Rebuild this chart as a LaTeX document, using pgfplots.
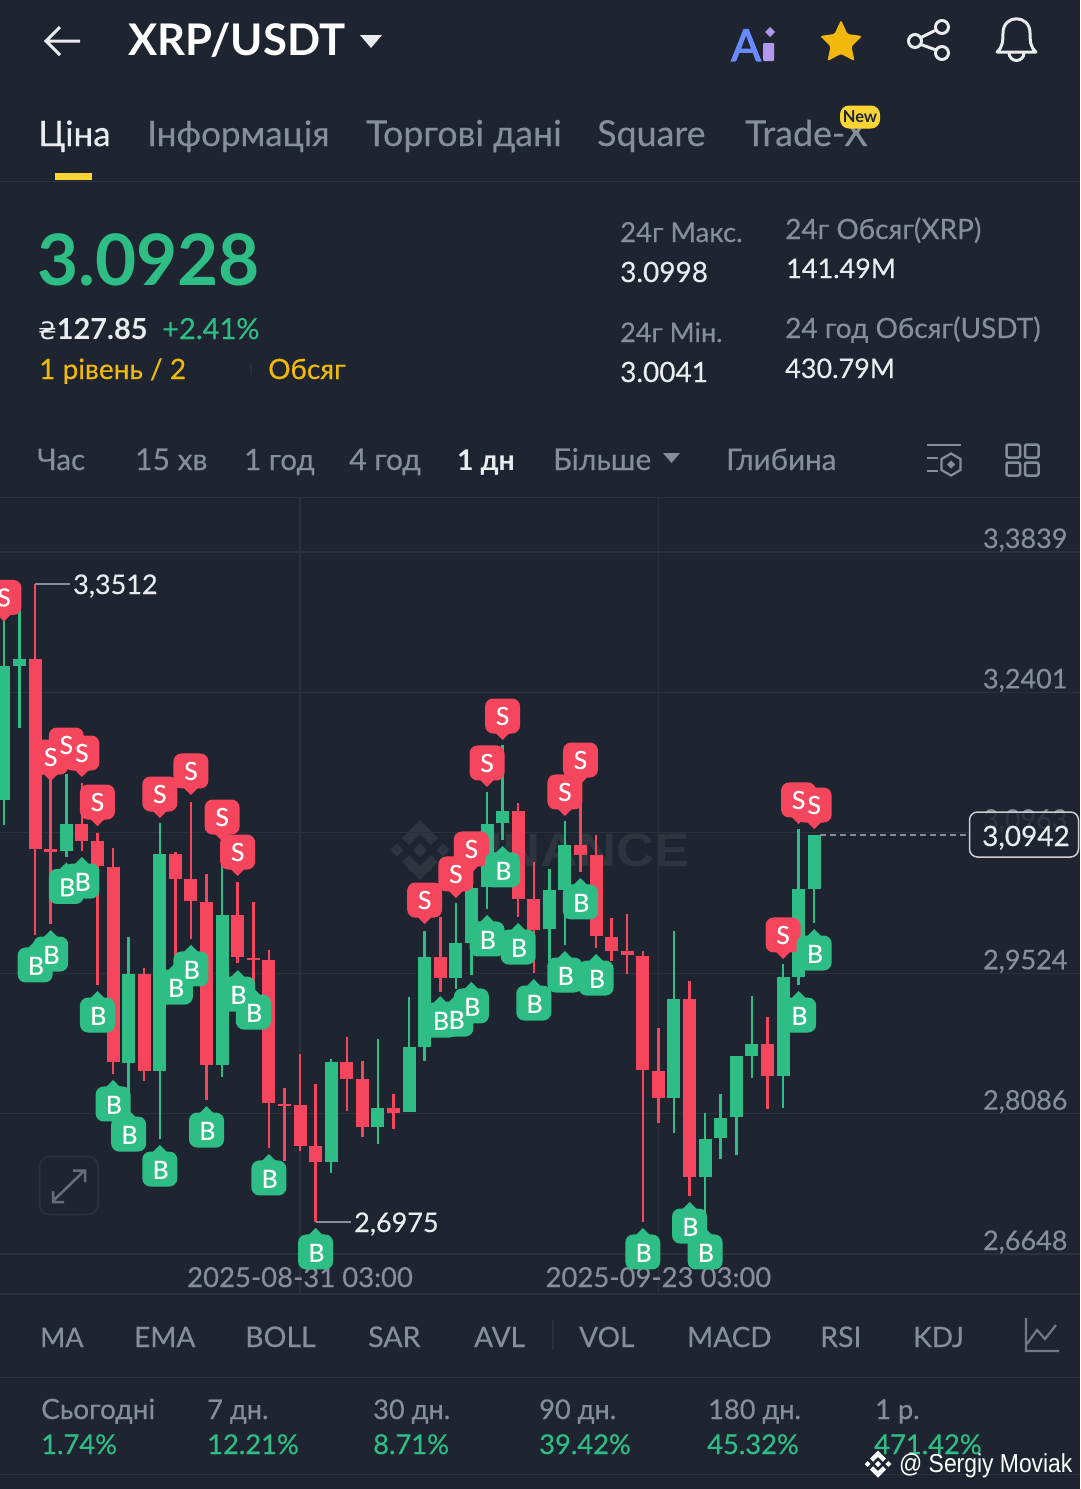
\documentclass[border=0pt]{standalone}
\usepackage{fontspec}
\usepackage{pgfplots}
\usepackage{pgfplotstable}
\pgfplotsset{compat=1.18}
\setmainfont{Lato}[FakeBold=0.35,BoldFeatures={FakeBold=0}]
\newfontfamily\fat{Lato}[FakeBold=2.5]
\newfontfamily\dv{DejaVu Sans}
\newfontfamily\ls{Liberation Sans}
\definecolor{bg}{HTML}{1F2530}
\definecolor{gridc}{HTML}{2B313B}
\definecolor{cg}{HTML}{2EBD85}
\definecolor{cr}{HTML}{F6465D}
\definecolor{yl}{HTML}{F0B90B}
\definecolor{yl2}{HTML}{FCD535}
\definecolor{gt}{HTML}{848E9C}
\definecolor{wt}{HTML}{EAECEF}
\definecolor{wm}{HTML}{2E353F}
\definecolor{aib}{HTML}{6A8AFF}
\definecolor{aiv}{HTML}{B098F0}

\newcommand{\rrect}{%
  \pgfpathmoveto{\pgfpoint{-9.5pt}{-17.5pt}}%
  \pgfpathlineto{\pgfpoint{9.5pt}{-17.5pt}}%
  \pgfpathcurveto{\pgfpoint{13.9pt}{-17.5pt}}{\pgfpoint{17.5pt}{-13.9pt}}{\pgfpoint{17.5pt}{-9.5pt}}%
  \pgfpathlineto{\pgfpoint{17.5pt}{9.5pt}}%
  \pgfpathcurveto{\pgfpoint{17.5pt}{13.9pt}}{\pgfpoint{13.9pt}{17.5pt}}{\pgfpoint{9.5pt}{17.5pt}}%
  \pgfpathlineto{\pgfpoint{-9.5pt}{17.5pt}}%
  \pgfpathcurveto{\pgfpoint{-13.9pt}{17.5pt}}{\pgfpoint{-17.5pt}{13.9pt}}{\pgfpoint{-17.5pt}{9.5pt}}%
  \pgfpathlineto{\pgfpoint{-17.5pt}{-9.5pt}}%
  \pgfpathcurveto{\pgfpoint{-17.5pt}{-13.9pt}}{\pgfpoint{-13.9pt}{-17.5pt}}{\pgfpoint{-9.5pt}{-17.5pt}}%
  \pgfpathclose\pgfusepathqfill}
\pgfdeclareplotmark{sellm}{\rrect
  \pgfpathmoveto{\pgfpoint{-7pt}{-17pt}}\pgfpathlineto{\pgfpoint{7pt}{-17pt}}\pgfpathlineto{\pgfpoint{0pt}{-24pt}}\pgfpathclose\pgfusepathqfill}
\pgfdeclareplotmark{buym}{\rrect
  \pgfpathmoveto{\pgfpoint{-7pt}{17pt}}\pgfpathlineto{\pgfpoint{7pt}{17pt}}\pgfpathlineto{\pgfpoint{0pt}{24pt}}\pgfpathclose\pgfusepathqfill}

% i top bottom high low
\pgfplotstableread{
i top bot high low
0 3.2674 3.1299 3.3347 3.1043
1 3.2743 3.2674 3.3347 3.2036
4 3.1053 3.0776 3.1565 3.0715
8 2.9516 2.8605 2.9895 2.8308
10 3.0745 2.8523 3.1063 2.7826
14 3.0121 2.8584 3.0653 2.8461
21 2.8618 2.7588 2.8646 2.7481
24 2.8144 2.7949 2.8851 2.7778
26 2.8766 2.8100 2.9284 2.8100
27 2.9690 2.8769 2.9957 2.8625
29 2.9834 2.9475 3.0244 2.9363
30 3.0397 2.9834 3.0633 2.9506
31 3.1053 3.0407 3.1381 3.0182
32 3.1186 3.1063 3.1862 3.0889
35 3.0377 2.9977 3.0587 2.9649
36 3.0838 3.0377 3.1083 2.9813
43 2.9260 2.8246 2.9953 2.7888
45 2.7826 2.7437 2.8093 2.6945
46 2.8041 2.7836 2.8287 2.7617
47 2.8672 2.8047 2.8672 2.7662
48 2.8799 2.8676 2.9291 2.8451
50 2.9486 2.8472 2.9619 2.8144
51 3.0387 2.9486 3.1002 2.9404
52 3.0942 3.0387 3.0942 3.0039
}\upcandles
\pgfplotstableread{
i top bot high low
2 3.2743 3.0797 3.3512 2.9916
3 3.0797 3.0766 3.1606 3.0028
5 3.1053 3.0879 3.1473 3.0776
6 3.0879 3.0623 3.0961 2.9404
7 3.0612 2.8615 3.0807 2.8492
9 2.9516 2.8523 2.9578 2.8420
11 3.0745 3.0489 3.0766 2.9690
12 3.0489 3.0264 3.1278 2.9875
13 3.0254 2.8584 3.0541 2.8226
15 3.0121 2.9690 3.0459 2.9629
16 2.9680 2.9660 3.0254 2.9424
17 2.9660 2.8195 2.9762 2.7734
18 2.8188 2.8167 2.8349 2.7604
19 2.8178 2.7758 2.8697 2.7706
20 2.7758 2.7588 2.8390 2.6975
22 2.8618 2.8441 2.8871 2.8113
23 2.8441 2.7949 2.8628 2.7844
25 2.8144 2.8096 2.8287 2.7929
28 2.9690 2.9475 3.0100 2.9332
33 3.1186 3.0285 3.1268 3.0100
34 3.0285 2.9967 3.0664 2.9527
37 3.0838 3.0735 3.1503 3.0561
38 3.0735 2.9906 3.0940 2.9783
39 2.9895 2.9752 3.0090 2.9649
40 2.9752 2.9706 3.0136 2.9521
41 2.9701 2.8533 2.9752 2.6976
42 2.8523 2.8246 2.8963 2.7994
44 2.9260 2.7437 2.9445 2.7246
49 2.8799 2.8472 2.9076 2.8134
}\downcandles
\pgfplotstableread{
i p
0 3.3373
3 3.1739
4 3.1862
5 3.1780
6 3.1278
10 3.1360
12 3.1596
14 3.1124
15 3.0766
27 3.0274
29 3.0541
30 3.0797
31 3.1678
32 3.2159
36 3.1381
37 3.1708
50 2.9916
51 3.1299
52 3.1247
}\sells
\pgfplotstableread{
i p
2 2.9609
3 2.9721
4 3.0413
5 3.0469
6 2.9096
7 2.8185
8 2.7877
10 2.7519
11 2.9383
12 2.9568
13 2.7918
15 2.9311
16 2.9127
17 2.7427
20 2.6669
28 2.9045
29 2.9055
30 2.9189
31 2.9875
32 3.0582
33 2.9793
34 2.9219
36 2.9506
37 3.0254
38 2.9475
41 2.6669
44 2.6935
45 2.6669
51 2.9096
52 2.9731
}\buys

\newcommand{\T}[5]{\node[anchor=base west,inner sep=0pt,text=#4] at (#1,#2) {\fontsize{#3}{#3}\selectfont #5};}
\newcommand{\binlogo}[4]{%
\begin{scope}[shift={(#1,#2)},scale=#3]
\fill[#4] (0,-30)--(18,-12)--(11,-5)--(0,-16)--(-11,-5)--(-18,-12)--cycle;
\fill[#4] (0,30)--(18,12)--(11,5)--(0,16)--(-11,5)--(-18,12)--cycle;
\fill[#4] (0,-7)--(7,0)--(0,7)--(-7,0)--cycle;
\fill[#4] (-23,-6.5)--(-16.5,0)--(-23,6.5)--(-29.5,0)--cycle;
\fill[#4] (23,-6.5)--(16.5,0)--(23,6.5)--(29.5,0)--cycle;
\end{scope}}

\begin{document}
\begin{tikzpicture}
\path[use as bounding box] (0,0) rectangle (1080pt,-1489pt);
\fill[bg] (0,0) rectangle (1080pt,-1489pt);
% watermark under the plot
\begin{scope}[x=1pt,y=-1pt]
\binlogo{420}{850}{1}{wm}
\node[anchor=west,inner sep=0pt,text=wm,xscale=1.12] at (450,850) {\fontsize{47}{47}\selectfont\ls\bfseries BINANCE};
\end{scope}

\begin{axis}[
  at={(0pt,-1294pt)},anchor=south west,
  scale only axis,width=1080pt,height=796pt,
  xmin=-0.2567,xmax=69.06,ymin=2.62386,ymax=3.4392,
  axis line style={draw=none},
  tick style={draw=none},
  major tick length=0pt,
  grid=major,
  grid style={color=gridc,line width=1.3pt},
  xtick={19,42},
  xticklabels={2025-08-31 03:00,2025-09-23 03:00},
  ytick={2.6648,2.8086,2.9524,3.0963,3.2401,3.3839},
  yticklabels={{2,6648},{2,8086},{2,9524},{3,0963},{3,2401},{3,3839}},
  ytick pos=right,
  yticklabel pos=right,
  yticklabel style={anchor=base east,xshift=-9pt,yshift=4pt,font=\fontsize{27}{27}\selectfont,text=gt},
  xticklabel style={anchor=base,yshift=7pt,font=\fontsize{27.5}{27.5}\selectfont,text=gt},
  clip=true,
]
\addplot[quiver={u=0,v=\thisrow{high}-\thisrow{low}},color=cg,line width=2.5pt,no markers,forget plot] table[x=i,y=low]{\upcandles};
\addplot[quiver={u=0,v=\thisrow{top}-\thisrow{bot}},color=cg,line width=13pt,no markers,forget plot] table[x=i,y=bot]{\upcandles};
\addplot[quiver={u=0,v=\thisrow{high}-\thisrow{low}},color=cr,line width=2.5pt,no markers,forget plot] table[x=i,y=low]{\downcandles};
\addplot[quiver={u=0,v=\thisrow{top}-\thisrow{bot}},color=cr,line width=13pt,no markers,forget plot] table[x=i,y=bot]{\downcandles};
\addplot[color=gt,line width=1.5pt,dash pattern=on 6pt off 4pt,no markers,forget plot] coordinates {(52.4,3.0942)(61.8,3.0942)};
\addplot[only marks,mark=sellm,draw=none,mark options={fill=cr,draw=none},forget plot] table[x=i,y=p]{\sells};
\addplot[only marks,mark=buym,draw=none,mark options={fill=cg,draw=none},forget plot] table[x=i,y=p]{\buys};
\addplot[only marks,mark=none,draw=none,forget plot,nodes near coords={S},nodes near coords align={center},every node near coord/.append style={anchor=center,inner sep=0pt,text=white,font=\fontsize{25}{25}\selectfont}] table[x=i,y=p]{\sells};
\addplot[only marks,mark=none,draw=none,forget plot,nodes near coords={B},nodes near coords align={center},every node near coord/.append style={anchor=center,inner sep=0pt,xshift=0.8pt,yshift=-0.8pt,text=white,font=\fontsize{25}{25}\selectfont}] table[x=i,y=p]{\buys};
\end{axis}

\begin{scope}[x=1pt,y=-1pt]
% chart annotations
\draw[color=gt,line width=1.5pt] (35,584)--(70,584);
\T{73}{594}{27}{wt}{3,3512}
\draw[color=gt,line width=1.5pt] (316,1222)--(351,1222);
\T{354}{1232}{27}{wt}{2,6975}
\fill[bg,opacity=.85,rounded corners=8pt] (969.5,812)rectangle(1078.5,857);
\draw[color=wt!85!bg,line width=1.5pt,rounded corners=8pt] (969.5,812)rectangle(1078.5,857);
\T{982}{846}{28}{wt}{3,0942}
% expand icon
\draw[color=gridc,line width=2pt,rounded corners=10pt] (39.5,1156.5) rectangle (98,1214.5);
\draw[color=gt!70!bg,line width=2.5pt] (53,1201)--(84,1171) (73,1170.5)--(85,1170.5)--(85,1182) (53,1191)--(53,1202)--(64,1202);

% header
\draw[color=wt,line width=3pt] (80,41)--(46,41) (60,27)--(46,41)--(60,55);
\T{128}{55}{43.6}{white}{\bfseries XRP/USDT}
\fill[wt] (360,35)--(382,35)--(371,48)--cycle;
\node[anchor=base west,inner sep=0pt,text=aib] at (731,61) {\fontsize{44}{44}\selectfont\fat A};
\fill[aiv,rounded corners=1pt] (763,43) rectangle (774,61);
\fill[aiv] (770,27)--(775,32)--(770,37)--(765,32)--cycle;
\fill[yl,rounded corners=1.5pt] (841,20)--(847.5,34)--(862,36)--(851.5,46.5)--(854.5,61)--(841,54)--(827.5,61)--(830.5,46.5)--(820,36)--(834.5,34)--cycle;
\draw[color=wt,line width=3pt] (915,41)circle(6.5) (942,27)circle(6.5) (942,53)circle(6.5) (921,37.5)--(936,30) (921,44.5)--(936,50);
\draw[color=wt,line width=3pt,line join=round] (997,52)--(1036,52) .. controls (1030,47) and (1030,40) .. (1030,33) .. controls (1030,14) and (1003,14) .. (1003,33) .. controls (1003,40) and (1003,47) .. (997,52)--cycle;
\draw[color=wt,line width=3pt] (1009,53) arc[start angle=180,end angle=0,radius=7.5];
% tabs
\T{38}{146}{35}{wt}{Ціна}
\T{147}{146}{35}{gt}{Інформація}
\T{366}{146}{35.8}{gt}{Торгові дані}
\T{597}{146}{35.8}{gt}{Square}
\T{745}{146}{35.8}{gt}{Trade-X}
\fill[yl2,rounded corners=9pt] (840,105.5) rectangle (880,128.5);
\node[text=bg,inner sep=0pt] at (860,117) {\fontsize{16.5}{16.5}\selectfont\bfseries New};
\fill[yl2] (55,173) rectangle (92,180);
\fill[gridc] (0,180.5) rectangle (1080,182);
% price
\T{37}{285}{71}{cg}{\bfseries 3.0928}
\T{38}{339}{29}{wt}{{\dv\fontsize{24}{24}\selectfont ₴}\bfseries 127.85}
\T{162}{339}{29}{cg}{+2.41\%}
\T{39}{379}{28}{yl}{1 рівень / 2}
\fill[gridc] (250,365) rectangle (252,375);
\T{268}{379}{28}{yl}{Обсяг}
\T{620}{242}{27.5}{gt}{24г Макс.}
\T{620}{282}{28}{wt}{3.0998}
\T{785}{239}{28}{gt}{24г Обсяг(XRP)}
\T{786}{278}{27}{wt}{141.49M}
\T{620}{342}{27}{gt}{24г Мін.}
\T{620}{382}{28}{wt}{3.0041}
\T{785}{338}{28}{gt}{24 год Обсяг(USDT)}
\T{785}{378}{27}{wt}{430.79M}
% periods
\T{37}{470}{29.6}{gt}{Час}
\T{135}{470}{30}{gt}{15 хв}
\T{244}{470}{29.5}{gt}{1 год}
\T{349}{470}{30}{gt}{4 год}
\T{457}{470}{28.5}{wt}{\bfseries 1 дн}
\T{553}{470}{30}{gt}{Більше}
\fill[gt] (663,453)--(680,453)--(671.5,463)--cycle;
\T{726}{470}{29.6}{gt}{Глибина}
\draw[color=gt,line width=2.2pt] (927,445)--(961,445) (927,458)--(938,458) (927,471)--(938,471);
\draw[color=gt,line width=2.2pt] (951,453.5)--(960.5,459)--(960.5,470)--(951,475.5)--(941.5,470)--(941.5,459)--cycle;
\fill[gt] (951,460.5)--(955,464.5)--(951,468.5)--(947,464.5)--cycle;
\draw[color=gt,line width=2.5pt,rounded corners=2pt] (1006.5,444.5) rectangle (1020,457.5) (1025,444.5) rectangle (1038.5,457.5) (1006.5,462.5) rectangle (1020,475.5) (1025,462.5) rectangle (1038.5,475.5);
\fill[gridc] (0,496.5) rectangle (1080,498);
% indicator row
\fill[gridc] (0,1293) rectangle (1080,1294.5);
\T{40}{1347}{27}{gt}{MA}
\T{134}{1347}{28}{gt}{EMA}
\T{245}{1347}{28.5}{gt}{BOLL}
\T{368}{1347}{28.5}{gt}{SAR}
\T{474}{1347}{28}{gt}{AVL}
\fill[gridc] (552,1320) rectangle (553.5,1350);
\T{579}{1347}{28}{gt}{VOL}
\T{687}{1347}{28}{gt}{MACD}
\T{820}{1347}{28.5}{gt}{RSI}
\T{913}{1347}{28}{gt}{KDJ}
\draw[color=gt!80!bg,line width=2.2pt] (1026,1318)--(1026,1351)--(1059,1351) (1027,1344)--(1037,1330)--(1045,1339)--(1056,1325);
\fill[gridc] (0,1376.5) rectangle (1080,1378);
% performance
\T{41}{1419}{28}{gt}{Сьогодні}
\T{207}{1419}{27.2}{gt}{7 дн.}
\T{373}{1419}{27.2}{gt}{30 дн.}
\T{539}{1419}{27.2}{gt}{90 дн.}
\T{708}{1419}{27.2}{gt}{180 дн.}
\T{875}{1419}{27.2}{gt}{1 р.}
\T{41}{1454}{27.3}{cg}{1.74\%}
\T{207}{1454}{27.3}{cg}{12.21\%}
\T{373}{1454}{27.3}{cg}{8.71\%}
\T{539}{1454}{27.3}{cg}{39.42\%}
\T{707}{1454}{27.3}{cg}{45.32\%}
\T{874}{1454}{27.3}{cg}{471.42\%}
\fill[gridc] (0,1473.5) rectangle (1080,1475);
\binlogo{878}{1464}{0.45}{white}
\node[anchor=base west,inner sep=0pt,text=white,xscale=0.88] at (899,1472) {\fontsize{26}{26}\selectfont\ls @ Sergiy Moviak};
\end{scope}
\end{tikzpicture}
\end{document}
